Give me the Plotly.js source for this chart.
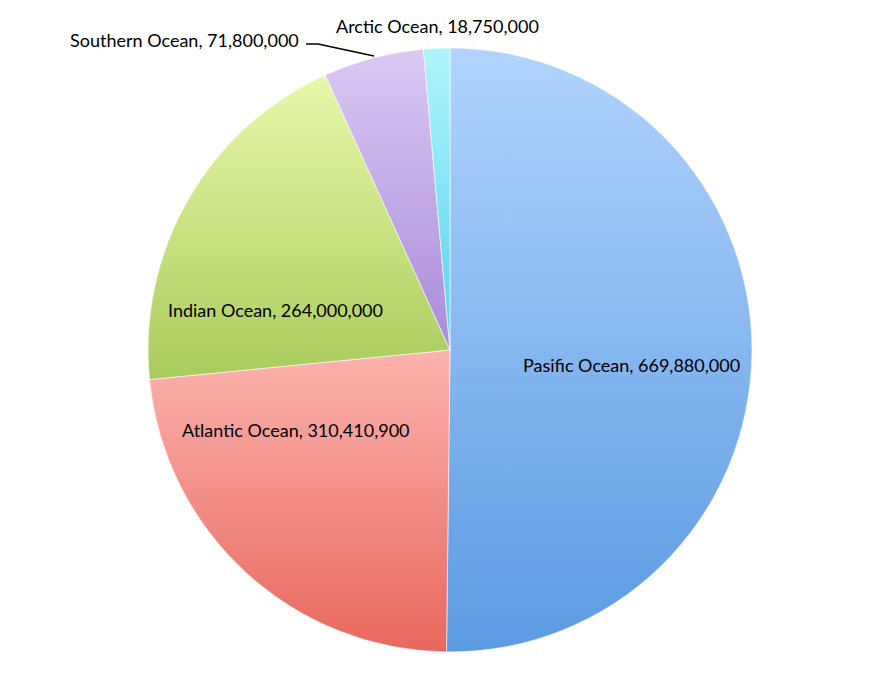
<!DOCTYPE html>
<html>
<head>
<meta charset="utf-8">
<script src="https://cdn.plot.ly/plotly-3.0.1.min.js"></script>
<style>
html,body{margin:0;padding:0;background:#fff;}
#chart{width:892px;height:692px;}
</style>
</head>
<body>
<div id="chart"></div>
<script>
const oceans = ["Pasific Ocean", "Atlantic Ocean", "Indian Ocean", "Southern Ocean", "Arctic Ocean"];
const areas = [669880000, 310410900, 264000000, 71800000, 18750000];
const sliceColors = ["#8ebff5", "#f59089", "#cde688", "#c8b0ec", "#9ceef9"];
const gradTop = ["#b0d4fd", "#fdb3ae", "#e8f8aa", "#dbc8f4", "#b0f4fc"];
const gradBottom = ["#5b9ae2", "#e8675c", "#a9cc5c", "#a98bd9", "#55d3ec"];

const labelsText = oceans.map((o, i) => o + ", " + areas[i].toLocaleString("en-US"));

// label placement (pixel positions of label anchors in the 892x692 page)
const W = 892, H = 692;
const M = {l: 8, r: 0, t: 48, b: 40};
const PW = W - M.l - M.r, PH = H - M.t - M.b;
const px = x => (x - M.l) / PW;
const py = y => (H - M.b - y) / PH;
const labelPlace = [
  {x: 631, y: 365, xanchor: "center"},
  {x: 296, y: 430, xanchor: "center"},
  {x: 275, y: 310, xanchor: "center"},
  {x: 301, y: 40, xanchor: "right"},
  {x: 437, y: 26, xanchor: "center"}
];

const font = {family: "Lato, 'Open Sans', sans-serif", size: 18, color: "#000"};

const trace = {
  type: "pie",
  labels: oceans,
  values: areas,
  textinfo: "none",
  sort: false,
  direction: "clockwise",
  rotation: 0,
  hoverinfo: "label+value",
  marker: {colors: sliceColors, line: {color: "rgba(255,255,255,0.6)", width: 1}}
};

const annotations = labelsText.map((t, i) => ({
  text: t,
  xref: "paper", yref: "paper",
  x: px(labelPlace[i].x), y: py(labelPlace[i].y),
  xanchor: labelPlace[i].xanchor, yanchor: "middle",
  showarrow: false,
  font: font
}));

const shapes = [{
  type: "path",
  xref: "paper", yref: "paper",
  path: "M " + px(306) + "," + py(44) + " L " + px(318) + "," + py(44) + " L " + px(374) + "," + py(56),
  line: {color: "#000", width: 1.5}
}];

const layout = {
  width: W,
  height: H,
  margin: M,
  showlegend: false,
  paper_bgcolor: "#fff",
  plot_bgcolor: "#fff",
  annotations: annotations,
  shapes: shapes
};

Plotly.newPlot("chart", [trace], layout, {displayModeBar: false, staticPlot: true}).then(function (gd) {
  const svg = gd.querySelector("svg.main-svg");
  const ns = "http://www.w3.org/2000/svg";
  let defs = svg.querySelector("defs");
  if (!defs) { defs = document.createElementNS(ns, "defs"); svg.insertBefore(defs, svg.firstChild); }
  gradTop.forEach(function (c, i) {
    const g = document.createElementNS(ns, "linearGradient");
    g.setAttribute("id", "sliceGrad" + i);
    g.setAttribute("x1", "0"); g.setAttribute("y1", "0");
    g.setAttribute("x2", "0"); g.setAttribute("y2", "1");
    const s1 = document.createElementNS(ns, "stop");
    s1.setAttribute("offset", "0"); s1.setAttribute("stop-color", c);
    const s2 = document.createElementNS(ns, "stop");
    s2.setAttribute("offset", "1"); s2.setAttribute("stop-color", gradBottom[i]);
    g.appendChild(s1); g.appendChild(s2);
    defs.appendChild(g);
  });
  gd.querySelectorAll(".pielayer .slice path.surface").forEach(function (p, i) {
    p.style.fill = "url(#sliceGrad" + i + ")";
  });
});
</script>
</body>
</html>
